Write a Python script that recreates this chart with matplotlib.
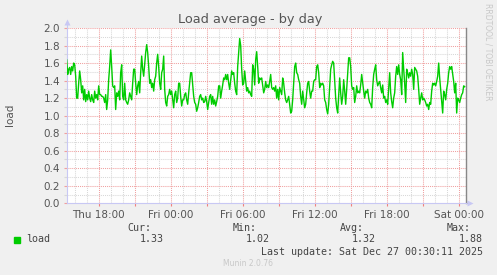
import numpy as np
import matplotlib
matplotlib.use("Agg")
import matplotlib.pyplot as plt
from matplotlib.ticker import MultipleLocator, FixedLocator

# load average, one value per 5 minutes in 7 stretches
load_a = [1.56, 1.64, 1.47, 1.53, 1.55, 1.47, 1.56, 1.51, 1.60, 1.58, 1.45, 1.20, 1.20, 1.37,
          1.51, 1.41, 1.26, 1.34, 1.18, 1.30, 1.16, 1.24, 1.18, 1.28, 1.20, 1.16, 1.24, 1.18,
          1.15, 1.28, 1.20, 1.24, 1.18, 1.34, 1.24, 1.24, 1.22, 1.22, 1.20, 1.15, 1.24, 1.07,
          1.18, 1.41, 1.56, 1.75, 1.56, 1.34, 1.32, 1.34, 1.07, 1.26, 1.22, 1.28, 1.18, 1.49]
load_b = [1.58, 1.22, 1.18, 1.37, 1.18, 1.15, 1.13, 1.18, 1.26, 1.22, 1.18, 1.37, 1.53, 1.53,
          1.37, 1.24, 1.34, 1.39, 1.26, 1.49, 1.68, 1.53, 1.45, 1.58, 1.72, 1.81, 1.72, 1.56,
          1.37, 1.41, 1.32, 1.37, 1.28, 1.41, 1.45, 1.60, 1.70, 1.56, 1.37, 1.30, 1.49, 1.53,
          1.68, 1.30, 1.15, 1.11, 1.22, 1.24, 1.30, 1.24, 1.28, 1.18, 1.09, 1.24]
load_c = [1.28, 1.15, 1.20, 1.37, 1.37, 1.22, 1.11, 1.18, 1.18, 1.24, 1.26, 1.18, 1.13, 1.26,
          1.37, 1.49, 1.49, 1.35, 1.22, 1.15, 1.13, 1.05, 1.09, 1.15, 1.22, 1.24, 1.18, 1.20,
          1.15, 1.16, 1.22, 1.16, 1.07, 1.15, 1.22, 1.24, 1.13, 1.22, 1.13, 1.18, 1.11, 1.16,
          1.22, 1.34, 1.34, 1.20, 1.28, 1.35, 1.43, 1.41, 1.47, 1.41, 1.47, 1.37, 1.30, 1.41,
          1.51, 1.47]
load_d = [1.49, 1.37, 1.28, 1.24, 1.56, 1.72, 1.88, 1.80, 1.53, 1.35, 1.37, 1.51, 1.39, 1.28,
          1.32, 1.26, 1.28, 1.24, 1.22, 1.58, 1.53, 1.35, 1.64, 1.73, 1.56, 1.37, 1.43, 1.41,
          1.43, 1.34, 1.26, 1.30, 1.39, 1.32, 1.35, 1.32, 1.39, 1.47, 1.32, 1.30, 1.32, 1.28,
          1.34, 1.20, 1.30, 1.18, 1.32, 1.28, 1.24, 1.43, 1.37, 1.26, 1.18, 1.15, 1.18, 1.22,
          1.13, 1.03]
load_e = [1.05, 1.18, 1.37, 1.56, 1.60, 1.49, 1.47, 1.41, 1.37, 1.22, 1.13, 1.28, 1.18, 1.09,
          1.13, 1.26, 1.37, 1.39, 1.28, 1.20, 1.28, 1.28, 1.39, 1.41, 1.41, 1.56, 1.58, 1.49,
          1.32, 1.37, 1.35, 1.37, 1.34, 1.18, 1.15, 1.07, 1.02, 1.13, 1.34, 1.53, 1.58, 1.62,
          1.60, 1.41, 1.20, 1.09, 1.03, 1.22, 1.43, 1.26, 1.13, 1.22, 1.41, 1.28, 1.13, 1.30,
          1.49, 1.66]
load_f = [1.66, 1.56, 1.34, 1.30, 1.32, 1.15, 1.22, 1.34, 1.26, 1.28, 1.26, 1.35, 1.47, 1.37,
          1.28, 1.20, 1.28, 1.26, 1.30, 1.20, 1.15, 1.13, 1.09, 1.32, 1.47, 1.53, 1.58, 1.41,
          1.34, 1.37, 1.39, 1.32, 1.26, 1.35, 1.20, 1.22, 1.15, 1.18, 1.13, 1.32, 1.49, 1.26,
          1.16, 1.09, 1.20, 1.26, 1.45, 1.56, 1.47, 1.58, 1.47, 1.41, 1.24, 1.72, 1.53, 1.37,
          1.15, 1.53]
load_g = [1.49, 1.43, 1.49, 1.45, 1.53, 1.47, 1.30, 1.55, 1.53, 1.51, 1.45, 1.30, 1.13, 1.20,
          1.26, 1.18, 1.20, 1.18, 1.15, 1.11, 1.13, 1.07, 1.15, 1.13, 1.28, 1.37, 1.35, 1.37,
          1.34, 1.39, 1.45, 1.60, 1.43, 1.30, 1.16, 1.03, 1.28, 1.24, 1.18, 1.30, 1.37, 1.49,
          1.56, 1.53, 1.56, 1.47, 1.39, 1.26, 1.37, 1.03, 1.20, 1.18, 1.15, 1.20, 1.24, 1.26,
          1.34, 1.33]

# hours relative to Fri 00:00
last_sample = 24.5
step_h = 5 / 60.0
x_range = (-8.64, 24.61)
tick_pos = [-6, 0, 6, 12, 18, 24]
tick_labels = ["Thu 18:00", "Fri 00:00", "Fri 06:00", "Fri 12:00", "Fri 18:00", "Sat 00:00"]

stat_names = ["Cur:", "Min:", "Avg:", "Max:"]
stat_values = ["1.33", "1.02", "1.32", "1.88"]

load = np.concatenate([load_a, load_b, load_c, load_d, load_e, load_f, load_g])
hours = last_sample - step_h * np.arange(len(load))[::-1]

W, H = 497, 275
fig = plt.figure(figsize=(W / 100, H / 100), dpi=100, facecolor="#F0F0F0")
ax = fig.add_axes([67 / W, (H - 203.3) / H, 399 / W, 175.3 / H])
ax.set_facecolor("white")

ax.plot(hours, load, color="#00CC00", lw=1.0, zorder=3)
ax.set_xlim(*x_range)
ax.set_ylim(0, 2.0)

# grid: gray dotted minor, red dotted major
ax.xaxis.set_major_locator(MultipleLocator(3))
ax.xaxis.set_minor_locator(MultipleLocator(1))
ax.yaxis.set_major_locator(MultipleLocator(0.2))
ax.yaxis.set_minor_locator(MultipleLocator(0.1))
ax.grid(which="minor", color="#D8D8D8", ls=(0, (1, 1)), lw=0.75, zorder=1)
ax.grid(which="major", color="#F0A0A0", ls=(0, (1, 1)), lw=0.75, zorder=2)

ax.set_xticks(np.arange(-6, 25, 3))
ax.set_xticklabels([tick_labels[tick_pos.index(t)] if t in tick_pos else ""
                    for t in np.arange(-6, 25, 3)])
ax.set_yticks(np.arange(0, 2.01, 0.2))
ax.set_yticklabels(["%.1f" % v for v in np.arange(0, 2.01, 0.2)])
ax.tick_params(axis="x", which="major", colors="#F08080", length=2.5, width=0.8,
               labelcolor="#555555", labelsize=7.5, pad=2)
ax.tick_params(axis="x", which="minor", length=0)
ax.tick_params(axis="y", which="major", colors="#F0A0A0", length=2, width=0.8,
               labelcolor="#555555", labelsize=7.5, pad=3)
ax.tick_params(axis="y", which="minor", colors="#D8D8D8", length=2, width=0.8)

for s in ["top"]:
    ax.spines[s].set_visible(False)
ax.spines["right"].set_color("#888888")
ax.spines["right"].set_linewidth(1.0)
ax.spines["left"].set_color("#C8C8F4")
ax.spines["bottom"].set_color("#C8C8F4")
ax.spines["left"].set_linewidth(0.8)
ax.spines["bottom"].set_linewidth(0.8)

# axis arrows
ax.plot([0, 0], [1.0, 1.035], transform=ax.transAxes, color="#C8C8F4", lw=0.8, clip_on=False)
ax.plot([0], [1.035], transform=ax.transAxes, marker="^", ms=4, color="#C8C8F4",
        clip_on=False, mec="none")
ax.plot([1.0, 1.01], [0, 0], transform=ax.transAxes, color="#C8C8F4", lw=0.8, clip_on=False)
ax.plot([1.01], [0], transform=ax.transAxes, marker=">", ms=4, color="#C8C8F4",
        clip_on=False, mec="none")

def px(x, y):
    return x / W, 1 - y / H

fig.text(*px(250, 19), "Load average - by day", ha="center", va="center",
         fontsize=9.3, color="#555555")
fig.text(*px(10, 115), "load", rotation=90, ha="center", va="center",
         fontsize=7.5, color="#555555")
fig.text(*px(488, 52), "RRDTOOL / TOBI OETIKER", rotation=270, ha="center", va="center",
         fontsize=5.5, color="#C8C8C8")

mono = "DejaVu Sans Mono"
fig.patches.append(plt.Rectangle(px(14, 243), 6 / W, 6 / H, transform=fig.transFigure,
                                 color="#00CC00"))
fig.text(*px(26, 239.5), "load", ha="left", va="center", family=mono, fontsize=7.2,
         color="#444444")
name_x = [127, 233, 340, 447]
val_x = [140, 246, 352, 459]
for nx, vx, n, v in zip(name_x, val_x, stat_names, stat_values):
    fig.text(*px(nx, 228), n, ha="left", va="center", family=mono, fontsize=7.2,
             color="#444444")
    fig.text(*px(vx, 239.5), v, ha="left", va="center", family=mono, fontsize=7.2,
             color="#444444")
fig.text(*px(483, 252), "Last update: Sat Dec 27 00:30:11 2025", ha="right", va="center",
         family=mono, fontsize=7.2, color="#444444")
fig.text(*px(248, 264), "Munin 2.0.76", ha="center", va="center", fontsize=5.5,
         color="#C8C8C8")

fig.savefig("out.png", dpi=100, facecolor=fig.get_facecolor())
